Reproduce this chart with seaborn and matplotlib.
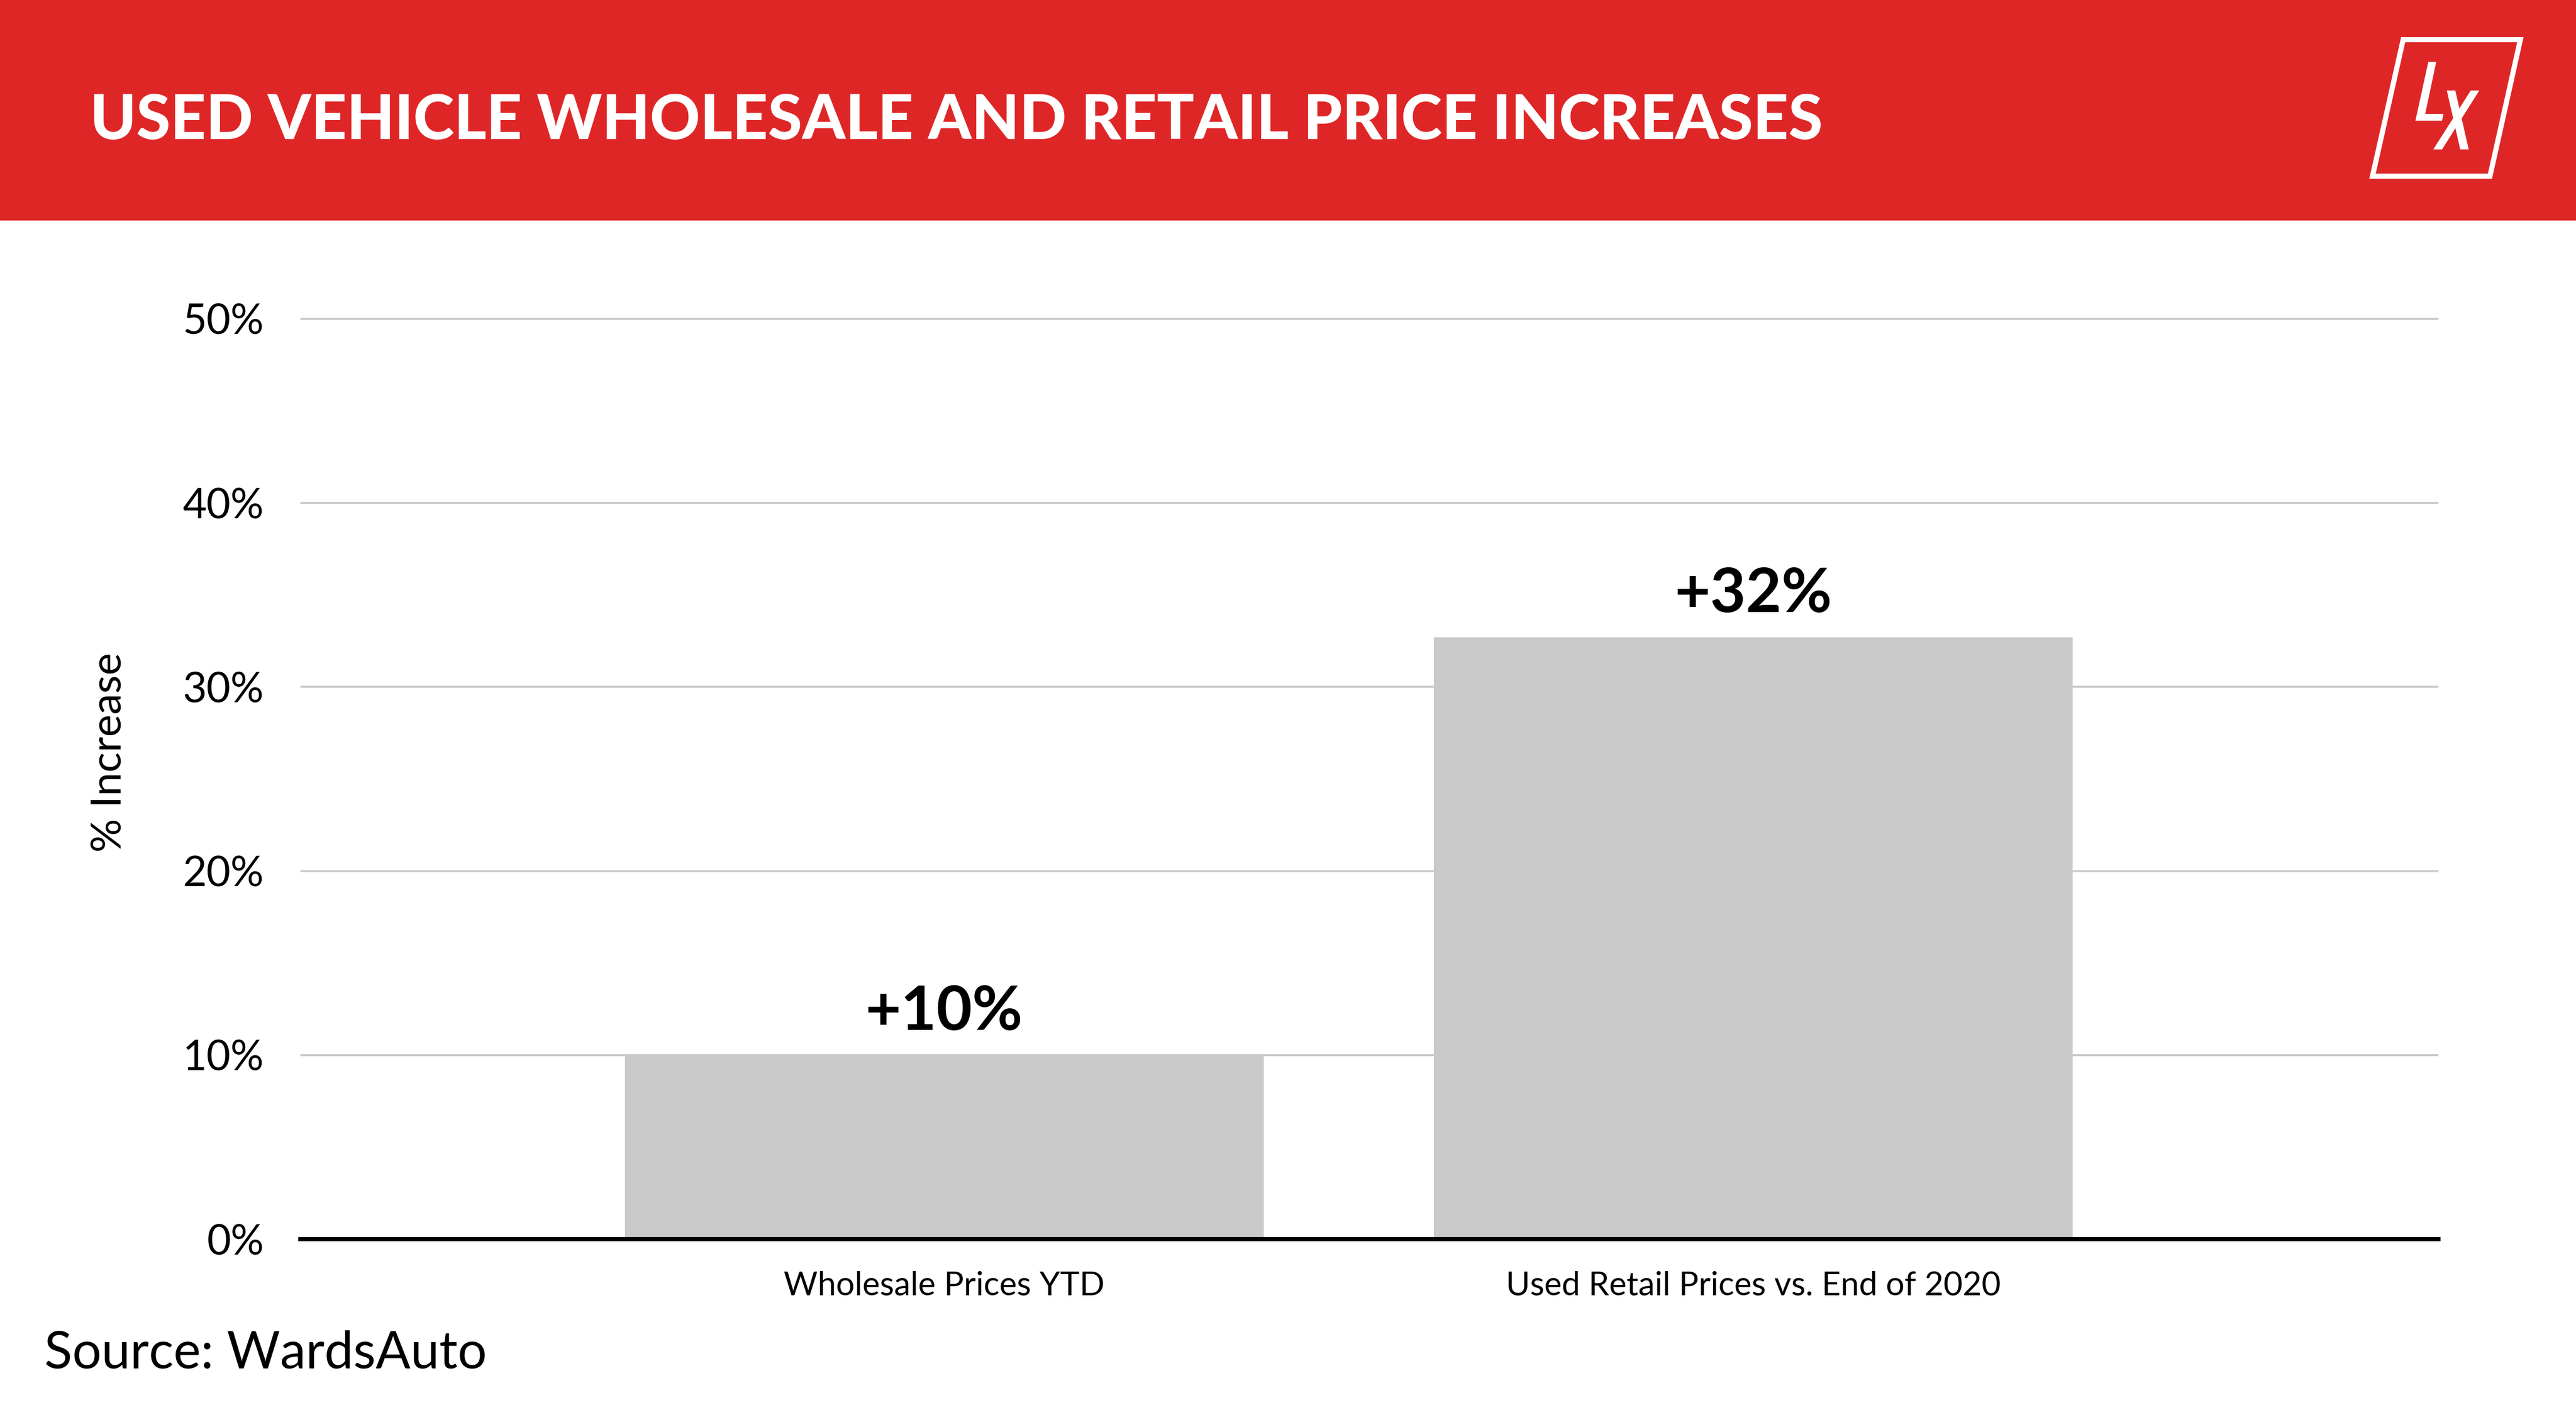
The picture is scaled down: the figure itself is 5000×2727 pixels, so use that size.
import matplotlib
matplotlib.use("Agg")
import matplotlib.pyplot as plt
import seaborn as sns
import pandas as pd
from matplotlib.patches import Polygon, Rectangle

# ---------------- data ----------------
categories = ["Wholesale Prices YTD", "Used Retail Prices vs. End of 2020"]
values = [10.0, 32.7]
value_labels = ["+10%", "+32%"]
yticks = [0, 10, 20, 30, 40, 50]
ytick_labels = ["0%", "10%", "20%", "30%", "40%", "50%"]
title_text = "USED VEHICLE WHOLESALE AND RETAIL PRICE INCREASES"
ylabel_text = "% Increase"
source_text = "Source: WardsAuto"

# ---------------- style ----------------
W, H, DPI = 5000, 2727, 100
RED = "#DF2627"
BAR = "#C9C9C9"
GRID = "#CBCBCB"

sns.set_theme(style="white")
plt.rcParams["font.family"] = ["Lato", "DejaVu Sans"]

fig = plt.figure(figsize=(W / DPI, H / DPI), dpi=DPI)
fig.patch.set_facecolor("white")


def fx(px):
    return px / W


def fy(py):
    return 1 - py / H


# header band
fig.patches.append(Rectangle((0, fy(428)), 1, 428 / H, transform=fig.transFigure,
                             facecolor=RED, edgecolor="none", zorder=0))

# title (fit to measured width)
title = fig.text(fx(175), fy(270), title_text, color="white", fontsize=80,
                 fontweight="black", va="baseline", ha="left")
fig.canvas.draw()
r = fig.canvas.get_renderer()
wpx = title.get_window_extent(r).width
title.set_fontsize(80 * 3365 / wpx)

# logo: parallelogram outline + "Lx"
frame = [(4664.5, 77), (4892, 77), (4833, 342), (4605, 342)]
fig.patches.append(Polygon([(fx(x), fy(y)) for x, y in frame], closed=True, fill=False,
                           edgecolor="white", linewidth=7.2, joinstyle="miter",
                           transform=fig.transFigure))
L_shape = [(4713.3, 120), (4728.7, 120), (4707.3, 221), (4742.7, 221), (4740, 234.3), (4688.3, 234.3)]
X1 = [(4749.3, 175.7), (4765.7, 175.7), (4791.7, 290), (4775.3, 290)]
X2 = [(4795.7, 175.7), (4812.3, 175.7), (4740, 290), (4723, 290)]
for shp in (L_shape, X1, X2):
    fig.patches.append(Polygon([(fx(x), fy(y)) for x, y in shp], closed=True,
                               facecolor="white", edgecolor="none", transform=fig.transFigure))

# ---------------- axes ----------------
px_per_unit = 35.72
ymax = 52
ax = fig.add_axes([fx(583), fy(2405), fx(4733) - fx(583), ymax * px_per_unit / H])
ax.set_facecolor("white")

df = pd.DataFrame({"category": categories, "value": values})
sns.barplot(data=df, x="category", y="value", color=BAR, saturation=1, width=0.79,
            edgecolor="none", ax=ax, zorder=2)

ax.set_xlim(-0.796, 1.847)
ax.set_ylim(0, ymax)
ax.set_yticks(yticks)
ax.set_yticklabels(ytick_labels)
ax.yaxis.grid(True, color=GRID, linewidth=2.9)
ax.xaxis.grid(False)
ax.set_axisbelow(True)

for s in ("left", "top", "right"):
    ax.spines[s].set_visible(False)
ax.spines["bottom"].set_color("black")
ax.spines["bottom"].set_linewidth(5.8)
ax.spines["bottom"].set_zorder(5)

ax.tick_params(axis="y", length=0, pad=51, labelsize=58, labelcolor="black")
ax.tick_params(axis="x", length=0, pad=44, labelsize=46, labelcolor="black")
ax.set_xlabel("")
ax.set_ylabel("")

for i, (v, lab) in enumerate(zip(values, value_labels)):
    ax.annotate(lab, (i, v), xytext=(0, 35), textcoords="offset points",
                ha="center", va="baseline", fontsize=86, fontweight="bold", color="black")

# y label
fig.text(fx(212), fy(1460), ylabel_text, rotation=90, ha="center", va="center",
         fontsize=59, color="black")

# source
fig.text(fx(86), fy(2655), source_text, ha="left", va="baseline", fontsize=72, color="black")

fig.savefig("out.png", dpi=DPI, facecolor="white")
